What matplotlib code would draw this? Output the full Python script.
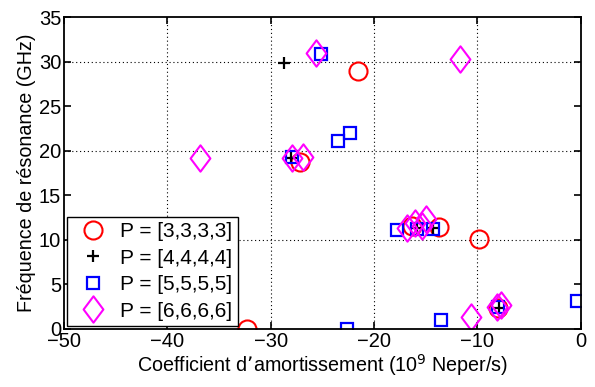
import matplotlib
matplotlib.use("Agg")
import matplotlib.pyplot as plt
from matplotlib.path import Path

plt.rcParams['font.family'] = ['Liberation Sans', 'DejaVu Sans']

# P = [3,3,3,3]
x_p3 = [-21.6, -27.2, -32.3, -13.7, -9.8, -16.3, -8.0]
y_p3 = [28.9, 18.7, 0.0, 11.4, 10.1, 11.6, 2.4]

# P = [4,4,4,4]
x_p4 = [-28.7, -28.0, -15.8, -14.3, -7.9]
y_p4 = [29.8, 19.2, 11.3, 11.3, 2.3]

# P = [5,5,5,5]
x_p5 = [-25.1, -23.5, -22.3, -27.9, -17.8, -15.8, -14.3, -22.6, -13.5, -0.4, -8.0]
y_p5 = [30.8, 21.1, 22.0, 19.3, 11.1, 11.2, 11.2, 0.0, 1.0, 3.1, 2.5]

# P = [6,6,6,6]
x_p6 = [-25.6, -11.7, -36.8, -27.9, -26.9, -16.8, -16.0, -15.4, -15.0, -10.6, -8.1, -7.7]
y_p6 = [31.0, 30.3, 19.2, 19.2, 19.3, 11.3, 11.9, 11.6, 12.3, 1.3, 2.5, 2.7]

labels = ["P = [3,3,3,3]", "P = [4,4,4,4]", "P = [5,5,5,5]", "P = [6,6,6,6]"]

# MATLAB-like diamond (taller than wide)
diamond = Path([(0, 1), (0.75, 0), (0, -1), (-0.75, 0), (0, 1)],
               [Path.MOVETO, Path.LINETO, Path.LINETO, Path.LINETO, Path.CLOSEPOLY])

fig = plt.figure(figsize=(5.95, 3.87), dpi=100)
ax = fig.add_axes([0.1076, 0.150, 0.8684, 0.806])

ax.plot(x_p3, y_p3, 'o', mfc='none', mec='red', ms=13, mew=1.5, ls='none', label=labels[0])
ax.plot(x_p4, y_p4, '+', color='black', ms=8, mew=1.6, ls='none', label=labels[1])
ax.plot(x_p5, y_p5, 's', mfc='none', mec='blue', ms=8, mew=1.6, ls='none', label=labels[2])
ax.plot(x_p6, y_p6, marker=diamond, mfc='none', mec='magenta', ms=19, mew=1.5, ls='none', label=labels[3])

ax.set_xlim(-50, 0)
ax.set_ylim(0, 35)
ax.set_xticks(range(-50, 1, 10))
ax.set_yticks(range(0, 36, 5))
ax.set_xticklabels([f"\u2212{abs(v)}" if v < 0 else str(v) for v in range(-50, 1, 10)])

for s in ax.spines.values():
    s.set_linewidth(1.3)
ax.tick_params(direction='in', top=True, right=True, labelsize=14.5, length=5, width=1.2, pad=2)

# dotted grid only on major 10-unit steps
for gx in range(-40, 0, 10):
    ax.axvline(gx, color='black', ls=(0, (1, 2.5)), lw=0.8, zorder=0)
for gy in range(10, 35, 10):
    ax.axhline(gy, color='black', ls=(0, (1, 2.5)), lw=0.8, zorder=0)

ax.set_xlabel("Coefficient d\u2019amortissement (10$^{9}$ Neper/s)", fontsize=14.2, labelpad=1)
ax.set_ylabel("Fréquence de résonance (GHz)", fontsize=14.2, labelpad=2)

leg = ax.legend(loc='lower left', fontsize=15, frameon=True, fancybox=False,
                edgecolor='black', borderpad=0.25, labelspacing=0.36,
                handletextpad=0.3, handlelength=2.0, borderaxespad=0.15)
leg.get_frame().set_linewidth(1.0)
leg.get_frame().set_alpha(1)

fig.savefig("out.png", dpi=100)
